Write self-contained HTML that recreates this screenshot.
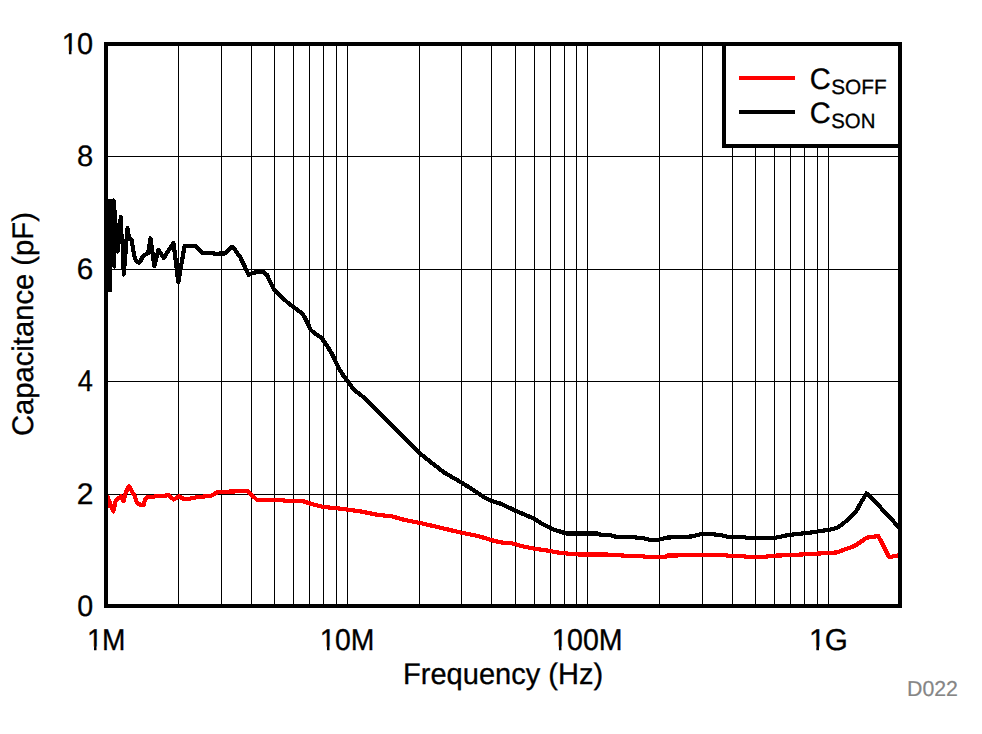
<!DOCTYPE html>
<html><head><meta charset="utf-8"><title>Capacitance vs Frequency</title>
<style>
html,body{margin:0;padding:0;background:#fff;}
body{width:982px;height:734px;overflow:hidden;}
svg{display:block;}
text{font-family:"Liberation Sans",sans-serif;fill:#000;stroke:#000;stroke-width:0.3px;text-rendering:geometricPrecision;}
</style></head><body>
<svg width="982" height="734" viewBox="0 0 982 734">
<rect x="0" y="0" width="982" height="734" fill="#fff"/>
<g fill="#000" shape-rendering="crispEdges">
<rect x="178" y="44" width="1" height="562"/><rect x="221" y="44" width="1" height="562"/><rect x="251" y="44" width="1" height="562"/><rect x="274" y="44" width="1" height="562"/><rect x="293" y="44" width="1" height="562"/><rect x="309" y="44" width="1" height="562"/><rect x="323" y="44" width="1" height="562"/><rect x="336" y="44" width="1" height="562"/><rect x="347" y="44" width="1" height="562"/><rect x="419" y="44" width="1" height="562"/><rect x="461" y="44" width="1" height="562"/><rect x="491" y="44" width="1" height="562"/><rect x="515" y="44" width="1" height="562"/><rect x="534" y="44" width="1" height="562"/><rect x="550" y="44" width="1" height="562"/><rect x="564" y="44" width="1" height="562"/><rect x="576" y="44" width="1" height="562"/><rect x="587" y="44" width="1" height="562"/><rect x="659" y="44" width="1" height="562"/><rect x="702" y="44" width="1" height="562"/><rect x="732" y="44" width="1" height="562"/><rect x="755" y="44" width="1" height="562"/><rect x="774" y="44" width="1" height="562"/><rect x="790" y="44" width="1" height="562"/><rect x="804" y="44" width="1" height="562"/><rect x="817" y="44" width="1" height="562"/><rect x="828" y="44" width="1" height="562"/><rect x="106" y="494" width="794" height="1"/><rect x="106" y="381" width="794" height="1"/><rect x="106" y="269" width="794" height="1"/><rect x="106" y="156" width="794" height="1"/>
</g>
<polyline points="106.0,495.0 106.8,507.0 107.3,496.5 113.3,511.5 114.4,507.2 115.3,501.8 118.0,498.5 121.2,496.3 123.4,501.3 126.0,492.0 128.9,486.2 134.9,496.3 137.0,502.9 140.8,505.0 143.6,504.8 145.2,499.0 147.4,497.3 153.0,497.3 155.5,496.0 165.2,495.7 168.2,495.0 173.8,499.5 178.9,496.5 183.5,498.7 189.6,498.7 196.7,497.3 211.2,495.7 217.7,492.0 232.4,491.5 247.8,490.9 256.8,499.8 281.2,499.8 284.5,500.6 302.4,501.0 312.2,504.2 322.0,506.7 331.8,507.8 341.5,508.8 359.6,511.2 377.5,514.8 392.1,516.4 405.2,520.1 419.8,522.9 437.8,527.1 461.4,532.7 478.5,536.1 491.4,540.1 501.2,542.5 511.0,543.0 522.4,546.3 534.6,548.7 545.2,550.2 556.6,552.3 568.0,553.6 577.8,554.4 621.8,554.7 622.6,555.9 642.8,555.7 644.4,556.7 665.6,556.7 667.2,555.5 677.0,555.5 679.5,554.7 725.9,554.7 727.5,555.9 743.8,555.9 745.5,556.8 766.6,556.8 768.3,555.9 787.5,555.2 810.4,554.0 836.4,552.5 854.7,545.9 866.9,537.7 878.4,536.0 889.1,557.1 898.2,555.5 900.0,555.3" fill="none" stroke="#ff0000" stroke-width="4.2" stroke-linejoin="round" stroke-linecap="round" shape-rendering="crispEdges"/>
<polyline points="106.0,250.0 107.0,201.0 108.0,290.5 109.3,201.0 109.8,290.5 111.5,201.0 114.4,266.5 113.7,200.5 117.5,251.5 120.8,217.0 121.0,232.0 122.2,238.0 123.3,253.0 123.7,274.5 127.5,228.0 128.8,237.0 131.7,240.5 133.2,250.0 134.8,258.0 137.0,262.0 139.5,262.6 141.0,260.3 142.3,257.0 143.5,255.6 148.2,253.3 150.5,238.3 154.4,266.2 158.5,250.0 163.7,258.0 173.5,243.0 178.3,282.0 184.6,245.8 195.8,246.0 202.0,252.7 213.2,252.9 214.2,253.7 225.0,253.5 231.2,247.3 233.2,247.4 240.3,257.3 245.4,268.0 248.7,274.8 252.2,273.3 257.3,271.8 263.3,272.1 266.9,274.8 270.4,282.4 273.9,289.4 280.5,295.6 287.5,302.5 293.6,306.9 302.4,313.8 305.6,319.0 310.7,329.8 314.9,333.7 321.1,337.3 327.3,346.1 332.6,355.0 338.8,368.2 343.2,375.3 348.5,382.4 353.3,389.1 362.9,396.7 378.1,411.6 397.2,430.8 412.5,446.0 420.1,453.5 431.5,462.8 444.9,473.0 461.5,482.5 473.5,490.1 484.9,497.8 492.6,501.2 501.2,503.9 515.5,510.7 533.8,518.6 541.9,523.8 553.3,529.5 566.4,533.5 597.3,533.5 600.6,534.7 610.3,535.2 616.0,536.8 631.5,537.1 642.8,538.1 649.3,539.7 659.1,539.7 667.2,537.6 677.0,537.1 691.7,536.5 701.5,533.9 709.6,533.9 721.0,535.2 727.5,536.8 743.8,537.1 747.1,537.9 774.8,537.9 789.0,534.9 810.4,532.6 831.8,529.3 837.9,527.3 842.5,524.2 848.6,518.9 856.2,511.2 860.8,502.8 866.5,493.4 879.1,505.9 898.2,526.5 900.0,528.5" fill="none" stroke="#000" stroke-width="4.2" stroke-linejoin="round" stroke-linecap="round" shape-rendering="crispEdges"/>
<rect x="106" y="44" width="794" height="562" fill="none" stroke="#000" stroke-width="4" shape-rendering="crispEdges"/>
<rect x="724" y="44" width="176" height="102" fill="#fff" stroke="#000" stroke-width="4" shape-rendering="crispEdges"/>
<rect x="739" y="76" width="56" height="4" fill="#ff0000" shape-rendering="crispEdges"/>
<rect x="739" y="110" width="56" height="4" fill="#000" shape-rendering="crispEdges"/>
<text transform="translate(61.03,53.85) scale(0.9855,1.0260)" font-size="29.33px"><tspan dx="0.61">1</tspan><tspan dx="-0.61">0</tspan></text><rect x="62.15" y="50.80" width="6.75" height="5.25" fill="#fff"/><rect x="71.45" y="50.80" width="6.33" height="5.25" fill="#fff"/>
<text transform="translate(77.13,615.56) scale(0.9771,1.0015)" font-size="29.33px">0</text>
<text transform="translate(76.74,503.85) scale(1.0253,1.0156)" font-size="29.33px">2</text>
<text transform="translate(77.63,390.85) scale(0.9270,1.0260)" font-size="29.33px">4</text>
<text transform="translate(76.74,278.56) scale(1.0123,1.0015)" font-size="29.33px">6</text>
<text transform="translate(76.98,165.56) scale(0.9954,1.0015)" font-size="29.33px">8</text>
<text transform="translate(86.34,649.60) scale(0.9601,1.0260)" font-size="29.33px"><tspan dx="0.62">1</tspan><tspan dx="-0.62">M</tspan></text><rect x="87.40" y="646.55" width="6.62" height="5.25" fill="#fff"/><rect x="96.51" y="646.55" width="6.20" height="5.25" fill="#fff"/>
<text transform="translate(319.22,649.60) scale(0.9686,1.0260)" font-size="29.33px"><tspan dx="0.62">1</tspan><tspan dx="-0.62">0M</tspan></text><rect x="320.30" y="646.55" width="6.66" height="5.25" fill="#fff"/><rect x="329.47" y="646.55" width="6.24" height="5.25" fill="#fff"/>
<text transform="translate(551.15,649.60) scale(0.9745,1.0260)" font-size="29.33px"><tspan dx="0.62">1</tspan><tspan dx="-0.62">00M</tspan></text><rect x="552.24" y="646.55" width="6.69" height="5.25" fill="#fff"/><rect x="561.46" y="646.55" width="6.27" height="5.25" fill="#fff"/>
<text transform="translate(808.30,649.60) scale(1.0113,1.0260)" font-size="29.33px"><tspan dx="0.59">1</tspan><tspan dx="-0.59">G</tspan></text><rect x="809.47" y="646.55" width="6.89" height="5.25" fill="#fff"/><rect x="818.98" y="646.55" width="6.45" height="5.25" fill="#fff"/>
<text transform="translate(403.07,683.75) scale(0.9900,1.0150)" font-size="29.33px">Frequency (Hz)</text>
<text transform="translate(33.15,436.03) rotate(-90) scale(0.9953,1.0150)" font-size="29.33px">Capacitance (pF)</text>
<text transform="translate(809.87,88.66) scale(0.9906,1.0110)" font-size="29.33px">C</text>
<text transform="translate(831.20,93.55) scale(1.0168,1.0070)" font-size="20.50px">SOFF</text>
<text transform="translate(809.87,122.76) scale(0.9906,1.0110)" font-size="29.33px">C</text>
<text transform="translate(831.22,127.55) scale(0.9947,1.0070)" font-size="20.50px">SON</text>
<text transform="translate(907.00,695.75) scale(1.0142,1.0260)" font-size="21.00px" style="fill:#858585;stroke:#858585;stroke-width:0.2px">D022</text>
</svg>
</body></html>
